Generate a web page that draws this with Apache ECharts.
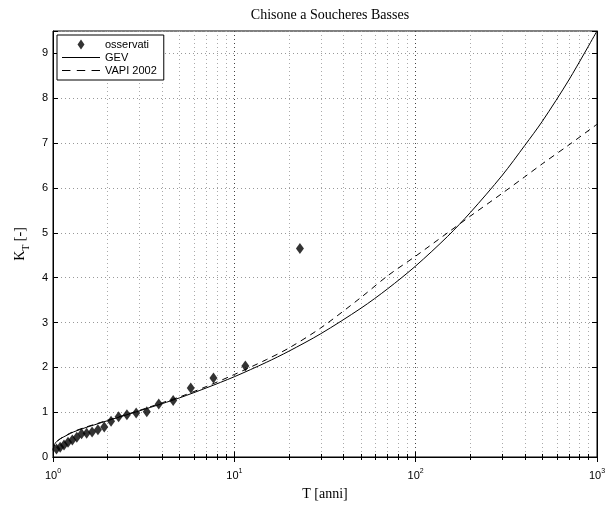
<!DOCTYPE html>
<html>
<head>
<meta charset="utf-8">
<script src="https://cdn.jsdelivr.net/npm/echarts@6/dist/echarts.min.js"></script>
<style>html,body{margin:0;padding:0;background:#fff}#c{width:616px;height:506px}</style>
</head>
<body>
<div id="c"></div>
<script>
// Observed values (plotting positions T, growth factor K_T)
const T_OBS = [23.0, 11.5, 7.67, 5.75, 4.6, 3.83, 3.29, 2.875, 2.556, 2.3, 2.09, 1.917, 1.769, 1.643, 1.533, 1.4375, 1.353, 1.278, 1.21, 1.15, 1.095, 1.045];
const K_OBS = [4.65, 2.03, 1.76, 1.54, 1.26, 1.18, 1.01, 0.98, 0.94, 0.90, 0.80, 0.67, 0.61, 0.56, 0.53, 0.52, 0.44, 0.38, 0.33, 0.27, 0.22, 0.18];
// Curves
const T_CURVE = [1.002, 1.01, 1.03, 1.05, 1.1, 1.2, 1.3, 1.5, 1.7, 2, 2.5, 3, 4, 5, 7, 10, 15, 20, 30, 50, 70, 100, 150, 200, 300, 400, 500, 700, 1000];
const K_GEV   = [0.16, 0.24, 0.31, 0.35, 0.41, 0.49, 0.56, 0.65, 0.72, 0.81, 0.93, 1.03, 1.19, 1.32, 1.54, 1.79, 2.11, 2.36, 2.75, 3.32, 3.75, 4.26, 4.92, 5.45, 6.28, 6.95, 7.49, 8.41, 9.50];
const K_VAPI  = [0.14, 0.22, 0.30, 0.34, 0.41, 0.50, 0.57, 0.66, 0.73, 0.82, 0.94, 1.04, 1.21, 1.34, 1.57, 1.84, 2.17, 2.43, 2.88, 3.56, 4.04, 4.48, 5.00, 5.37, 5.88, 6.25, 6.54, 6.96, 7.42];
const Y_TICKS = [0, 1, 2, 3, 4, 5, 6, 7, 8, 9];

const SANS = 'Liberation Sans, Arial, sans-serif';
const SERIF = 'Liberation Serif, Times New Roman, serif';

const chart = echarts.init(document.getElementById('c'), null, {renderer: 'canvas'});

const xBase = {
  type: 'log', logBase: 10, min: 1, max: 1000,
  axisLine: {show: true, lineStyle: {color: '#000', width: 1}},
  axisTick: {show: true, inside: true, length: 5, lineStyle: {color: '#000'}},
  minorTick: {show: true, splitNumber: 9, length: 3, lineStyle: {color: '#000'}},
  splitLine: {show: false},
  minorSplitLine: {show: false}
};

const option = {
  animation: false,
  backgroundColor: '#fff',
  title: {
    text: 'Chisone a Soucheres Basses',
    left: 325, top: 3, textAlign: 'center',
    textStyle: {fontFamily: SERIF, fontSize: 14, fontWeight: 'normal', color: '#000'}
  },
  grid: {left: 53, right: 19, top: 31, bottom: 46, show: true, borderColor: '#000', borderWidth: 1, backgroundColor: '#fff'},
  legend: {
    left: 57, top: 35, orient: 'vertical',
    backgroundColor: '#fff', borderColor: '#000', borderWidth: 1,
    padding: [4, 7, 4, 5], itemGap: 2, itemWidth: 38, itemHeight: 10,
    textStyle: {fontFamily: SANS, fontSize: 11, color: '#000'},
    data: [
      {name: 'osservati', icon: 'path://M0,-5L3.5,0L0,5L-3.5,0Z'},
      {name: 'GEV', icon: 'path://M0,0H38V1H0Z'},
      {name: 'VAPI 2002', icon: 'path://M0,0H8V1H0Z M14,0H22V1H14Z M28,0H36V1H28Z'}
    ]
  },
  xAxis: [
    Object.assign({}, xBase, {
      position: 'bottom',
      name: 'T [anni]', nameLocation: 'middle', nameGap: 30,
      nameTextStyle: {fontFamily: SERIF, fontSize: 14, color: '#000'},
      splitLine: {show: true, lineStyle: {color: '#444', type: [1, 3], width: 1}},
      minorSplitLine: {show: true, lineStyle: {color: '#aaa', type: [1, 3], width: 1}},
      axisLabel: {
        margin: 11,
        formatter: function (v) {
          const e = Math.round(Math.log10(v));
          return '{b|10}{s|' + e + '}';
        },
        rich: {
          b: {fontFamily: SANS, fontSize: 11, color: '#000', verticalAlign: 'bottom'},
          s: {fontFamily: SANS, fontSize: 7, color: '#000', verticalAlign: 'bottom', padding: [0, 0, 6, 0]}
        }
      }
    }),
    Object.assign({}, xBase, {position: 'top', axisLabel: {show: false}})
  ],
  yAxis: [
    {
      type: 'value', min: 0, max: 9.5, interval: 1, position: 'left',
      name: '{k|K}{t|T}{k| [-]}', nameLocation: 'middle', nameGap: 18, nameRotate: 90,
      nameTextStyle: {
        rich: {
          k: {fontFamily: SERIF, fontSize: 14, color: '#000', verticalAlign: 'bottom', padding: [0, 0, 4, 0]},
          t: {fontFamily: SERIF, fontSize: 10, color: '#000', verticalAlign: 'bottom'}
        }
      },
      axisLine: {show: true, lineStyle: {color: '#000'}},
      axisTick: {show: true, inside: true, length: 5, lineStyle: {color: '#000'}},
      splitLine: {show: true, lineStyle: {color: '#999', type: [1, 3]}},
      axisLabel: {
        fontFamily: SANS, fontSize: 11, color: '#000', margin: 5,
        formatter: function (v) { return Y_TICKS.indexOf(v) >= 0 ? String(v) : ''; }
      }
    },
    {
      type: 'value', min: 0, max: 9.5, interval: 1, position: 'right',
      axisLine: {show: true, lineStyle: {color: '#000'}},
      axisTick: {show: true, inside: true, length: 5, lineStyle: {color: '#000'}},
      splitLine: {show: false},
      axisLabel: {show: false}
    }
  ],
  series: [
    {
      name: 'osservati', type: 'scatter', xAxisIndex: 0, yAxisIndex: 0,
      symbol: 'diamond', symbolSize: [8, 11],
      itemStyle: {color: '#000'},
      data: T_OBS.map((t, i) => [t, K_OBS[i]]),
      z: 3
    },
    {
      name: 'GEV', type: 'line', xAxisIndex: 0, yAxisIndex: 0,
      showSymbol: false, symbol: 'none', smooth: 0.3,
      lineStyle: {color: '#000', width: 1, type: 'solid'},
      itemStyle: {color: '#000'},
      data: T_CURVE.map((t, i) => [t, K_GEV[i]]),
      z: 4
    },
    {
      name: 'VAPI 2002', type: 'line', xAxisIndex: 0, yAxisIndex: 0,
      showSymbol: false, symbol: 'none', smooth: 0.3,
      lineStyle: {color: '#000', width: 1, type: [6, 5]},
      itemStyle: {color: '#000'},
      data: T_CURVE.map((t, i) => [t, K_VAPI[i]]),
      z: 4
    }
  ]
};
chart.setOption(option);
</script>
</body>
</html>
